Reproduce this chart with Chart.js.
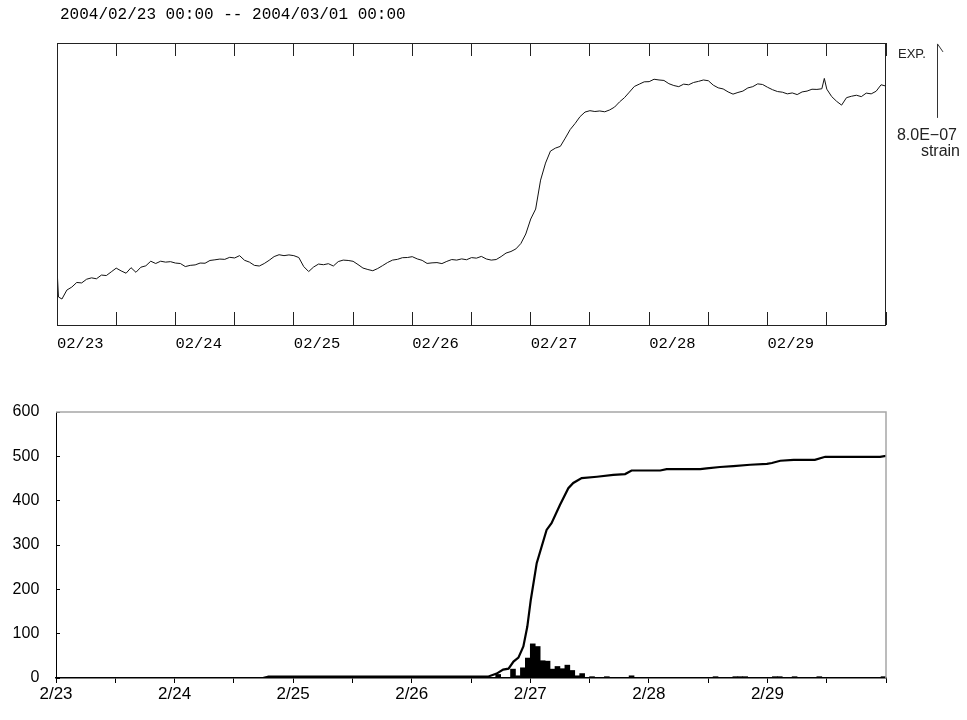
<!DOCTYPE html>
<html>
<head>
<meta charset="utf-8">
<script src="https://cdn.jsdelivr.net/npm/chart.js@4.4.1/dist/chart.umd.min.js"></script>
<style>
html,body{margin:0;padding:0;background:#fff;}
#wrap{position:relative;width:967px;height:720px;overflow:hidden;background:#fff;}
canvas{position:absolute;left:0;}
#c1{top:0;}
#c2{top:370px;}
</style>
</head>
<body>
<div id="wrap">
<canvas id="c1" width="967" height="370"></canvas>
<canvas id="c2" width="967" height="350"></canvas>
</div>
<script>
// ---------- text ----------
const titleText = '2004/02/23 00:00 -- 2004/03/01 00:00';
const topDayLabels = ['02/23', '02/24', '02/25', '02/26', '02/27', '02/28', '02/29'];
const bottomDayLabels = ['2/23', '2/24', '2/25', '2/26', '2/27', '2/28', '2/29'];
const bottomYTicks = [0, 100, 200, 300, 400, 500, 600];

// ---------- upper panel: strain record (hours from 2004/02/23 00:00, strain in 1e-8, relative) ----------
const strainHours = [
  0, 0.3, 1, 2, 3, 4, 5, 6, 7, 8, 9, 10, 11, 12, 13, 14, 15, 16, 17, 18, 19, 20, 21, 22, 23,
  24, 25, 26, 27, 28, 29, 30, 31, 32, 33, 34, 35, 36, 37, 38, 39, 40, 41, 42, 43, 44, 45, 46, 47,
  48, 49, 50, 51, 52, 53, 54, 55, 56, 57, 58, 59, 60, 61, 62, 63, 64, 65, 66, 67, 68, 69, 70, 71,
  72, 73, 74, 75, 76, 77, 78, 79, 80, 81, 82, 83, 84, 85, 86, 87, 88, 89, 90, 91, 92, 93, 94, 95,
  96, 97, 98, 99, 100, 101, 102, 103, 104, 105, 106, 107, 108, 109, 110, 111, 112, 113, 114, 115, 116, 117, 118, 119,
  120, 121, 122, 123, 124, 125, 126, 127, 128, 129, 130, 131, 132, 133, 134, 135, 136, 137, 138, 139, 140, 141, 142, 143,
  144, 145, 146, 147, 148, 149, 150, 151, 152, 153, 154, 155, 155.5, 156, 157, 158, 159, 160, 161, 162, 163, 164, 165, 166, 167, 168
];
const strainValues = [
  61.6, 30.3, 28.1, 37.8, 41.0, 46.0, 45.5, 49.5, 51.0, 50.0, 54.0, 53.5, 57.5, 61.5, 58.5, 56.0, 62.0, 57.0, 62.5, 64.0, 69.0, 66.5, 69.0, 68.0, 68.5,
  67.0, 66.5, 63.2, 64.5, 65.0, 67.0, 66.8, 69.8, 70.5, 71.3, 71.0, 73.2, 72.5, 75.0, 70.0, 68.0, 64.5, 63.8, 66.5, 70.0, 74.0, 76.0, 75.0, 75.8,
  75.0, 73.0, 63.2, 57.8, 62.7, 65.9, 65.2, 66.3, 63.8, 68.6, 70.2, 69.8, 68.9, 65.4, 61.6, 60.0, 58.7, 61.1, 64.3, 67.6, 70.2, 71.0, 72.8, 73.0,
  73.9, 71.5, 69.9, 66.6, 67.2, 67.5, 66.4, 68.8, 70.8, 70.2, 71.5, 70.6, 72.9, 72.3, 74.2, 71.4, 70.2, 70.8, 74.0, 77.8, 79.5, 82.3, 88.1, 98.4,
  114.6, 125.4, 156.7, 175.1, 188.1, 191.3, 193.2, 202.1, 211.4, 218.0, 225.4, 230.3, 231.8, 230.9, 231.5, 230.6, 232.6, 235.7, 241.3, 245.9, 251.9, 258.0, 260.5, 263.0,
  263.2, 265.8, 265.0, 264.5, 261.0, 259.0, 257.8, 260.5, 259.8, 262.3, 263.5, 265.0, 264.2, 259.4, 256.5, 255.3, 252.1, 249.7, 251.5, 253.0, 256.4, 257.8, 260.8, 260.1,
  257.1, 254.5, 252.5, 251.8, 250.0, 251.0, 249.2, 252.1, 253.0, 255.0, 254.8, 255.5, 266.7, 255.1, 247.0, 241.9, 237.8, 245.9, 247.4, 248.5, 247.0, 250.8, 250.0, 252.8, 259.8, 258.4
];
const strainAxisMin = 0;
const strainAxisMax = 305;
const scaleBarTop = 304;   // where the 8.0E-07 bar starts
const scaleBarValue = 80;  // 8.0E-07 strain in 1e-8 units

// ---------- lower panel: earthquake counts ----------
const histHours = [42, 89, 92, 93, 94, 95, 96, 97, 98, 99, 100, 101, 102, 103, 104, 105, 106, 108, 111, 116, 133, 137, 138, 139, 145, 146, 149, 154, 167];
const histCounts = [2, 8, 20, 5, 23, 45, 77, 71, 39, 38, 20, 26, 21, 29, 17, 5, 10, 3, 3, 5, 3, 3, 3, 3, 3, 3, 3, 3, 3];
const cumHours = [0, 42, 43, 87.4, 89.2, 90.5, 91.6, 92.6, 93.6, 94.6, 95.4, 96.1, 97.3, 99.3, 100.3, 102, 103.7, 104.7, 106.4, 109.5, 112.8, 115.2, 116.5, 122.3, 123.6, 130.4, 131.7, 134.4, 137.1, 140.5, 143.9, 144.9, 146.6, 149.3, 153.6, 155.7, 166.8, 168];
const cumCounts = [0, 0, 3, 3, 10, 19, 21, 37, 46, 71, 116, 176, 259, 334, 349, 390, 428, 440, 451, 454, 458, 460, 468, 468, 471, 471, 473, 476, 478, 481, 483, 485, 490, 492, 492, 499, 499, 501];

Chart.defaults.font.family = '"Liberation Sans", Arial, sans-serif';
Chart.defaults.color = '#000';
Chart.defaults.animation = false;

// ---------- upper chart ----------
const topDecor = {
  id: 'topDecor',
  afterDraw(chart) {
    const {ctx, chartArea: a, scales: {y}} = chart;
    ctx.save();
    ctx.strokeStyle = '#222';
    ctx.lineWidth = 1;
    ctx.strokeRect(a.left + 0.5, a.top + 0.5, a.right - a.left - 1, a.bottom - a.top);
    ctx.fillStyle = '#000';
    ctx.font = '16px "Liberation Mono", monospace';
    ctx.textAlign = 'left';
    ctx.textBaseline = 'middle';
    ctx.fillText(titleText, 60, 15);
    ctx.fillStyle = '#222';
    ctx.font = '13px "Liberation Sans", Arial, sans-serif';
    ctx.fillText('EXP.', 898, 54);
    const yTop = y.getPixelForValue(scaleBarTop);
    const yBot = y.getPixelForValue(scaleBarTop - scaleBarValue);
    ctx.beginPath();
    ctx.strokeStyle = '#333';
    ctx.moveTo(937.5, yTop);
    ctx.lineTo(937.5, yBot);
    ctx.moveTo(937.5, yTop);
    ctx.lineTo(943, yTop + 8);
    ctx.stroke();
    ctx.font = '16px "Liberation Sans", Arial, sans-serif';
    ctx.textAlign = 'right';
    ctx.fillText('8.0E\u221207', 957, 136);
    ctx.fillText('strain', 960, 152);
    ctx.restore();
  }
};

new Chart(document.getElementById('c1'), {
  type: 'line',
  data: {
    datasets: [{
      data: strainHours.map((h, i) => ({x: h, y: strainValues[i]})),
      borderColor: '#111',
      borderWidth: 1,
      pointRadius: 0,
      tension: 0,
      fill: false
    }]
  },
  options: {
    responsive: false,
    devicePixelRatio: 1,
    layout: {padding: {left: 57, right: 81, top: 43, bottom: 0}},
    plugins: {legend: {display: false}, tooltip: {enabled: false}, title: {display: false}},
    scales: {
      x: {
        type: 'linear', min: 0, max: 168, position: 'bottom',
        ticks: {
          stepSize: 12, autoSkip: false, maxRotation: 0, minRotation: 0, align: 'start', padding: 23,
          font: {family: '"Liberation Mono", monospace', size: 15.5}, color: '#000',
          callback: (v) => (v % 24 === 0 ? (topDayLabels[v / 24] ?? '') : '')
        },
        grid: {drawOnChartArea: false, tickLength: -13, color: '#222', lineWidth: 1},
        border: {display: false},
        afterFit: (s) => { s.height = 45; }
      },
      xTop: {
        type: 'linear', min: 0, max: 168, position: 'top',
        ticks: {stepSize: 12, autoSkip: false, display: false},
        grid: {drawOnChartArea: false, tickLength: -13, color: '#222', lineWidth: 1},
        border: {display: false},
        afterFit: (s) => { s.height = 0; }
      },
      y: {display: false, min: strainAxisMin, max: strainAxisMax}
    }
  },
  plugins: [topDecor]
});

// ---------- lower chart ----------
const bottomDecor = {
  id: 'bottomDecor',
  afterDraw(chart) {
    const {ctx, chartArea: a} = chart;
    ctx.save();
    ctx.strokeStyle = '#a6a6a6';
    ctx.lineWidth = 1.5;
    ctx.beginPath();
    ctx.moveTo(a.left, a.top);
    ctx.lineTo(a.right, a.top);
    ctx.lineTo(a.right, a.bottom);
    ctx.stroke();
    ctx.restore();
  }
};

new Chart(document.getElementById('c2'), {
  type: 'bar',
  data: {
    datasets: [
      {
        type: 'line',
        data: cumHours.map((h, i) => ({x: h, y: cumCounts[i]})),
        borderColor: '#000',
        borderWidth: 2.2,
        pointRadius: 0,
        tension: 0,
        fill: false,
        order: 0
      },
      {
        type: 'bar',
        data: histHours.map((h, i) => ({x: h + 0.5, y: histCounts[i]})),
        backgroundColor: '#000',
        borderWidth: 0,
        barPercentage: 1,
        categoryPercentage: 1,
        order: 1
      }
    ]
  },
  options: {
    responsive: false,
    devicePixelRatio: 1,
    layout: {padding: {left: 0, right: 81, top: 42, bottom: 0}},
    plugins: {legend: {display: false}, tooltip: {enabled: false}},
    scales: {
      x: {
        type: 'linear', min: 0, max: 168, offset: false,
        ticks: {
          stepSize: 12, autoSkip: false, maxRotation: 0, minRotation: 0, padding: 1,
          font: {size: 17}, color: '#000',
          callback: (v) => (v % 24 === 0 ? (bottomDayLabels[v / 24] ?? '') : '')
        },
        grid: {drawOnChartArea: false, offset: false, tickLength: 5, color: '#000', lineWidth: 1},
        border: {color: '#000', width: 1.5},
        afterFit: (s) => { s.height = 42; }
      },
      y: {
        min: 0, max: 600,
        afterBuildTicks: (s) => { s.ticks = bottomYTicks.map(v => ({value: v})); },
        ticks: {padding: 20.7, font: {size: 16}, color: '#000'},
        grid: {drawOnChartArea: false, tickLength: -4, color: '#000', lineWidth: 1},
        border: {color: '#000', width: 1},
        afterFit: (s) => { s.width = 56; }
      }
    }
  },
  plugins: [bottomDecor]
});
</script>
</body>
</html>
